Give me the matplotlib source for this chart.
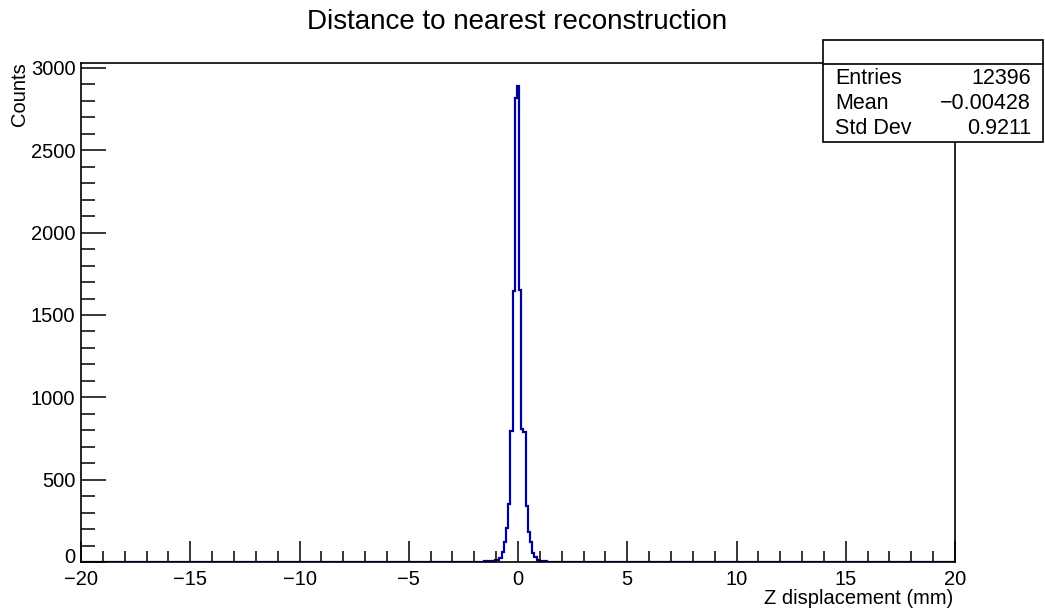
import numpy as np
import matplotlib
matplotlib.use("Agg")
import matplotlib.pyplot as plt
from matplotlib.ticker import MultipleLocator

plt.rcParams['font.family'] = ['Liberation Sans', 'DejaVu Sans']

# ---- data ----
title = "Distance to nearest reconstruction"
xlabel = "Z displacement (mm)"
ylabel = "Counts"
bin_width = 0.1
x_min, x_max = -20.0, 20.0

# non-empty bins: centre (mm) -> counts
bin_centres = [-14.1, -7.6, -7.1, -5.1, -4.7, -4.5, -4.4, -4.2, -3.7, -3.6, -2.8, -2.7,
               -2.1, -2.0, -1.8, -1.7, -1.5, -1.4, -1.3, -1.2, -1.1, -1.0,
               -0.9, -0.8, -0.7, -0.6, -0.5, -0.4, -0.3, -0.2, -0.1, 0.0,
               0.1, 0.2, 0.3, 0.4, 0.5, 0.6, 0.7, 0.8, 0.9, 1.0,
               1.1, 1.2, 1.3, 1.6, 1.7, 1.8, 1.9, 2.5, 2.6, 2.8, 4.5, 4.6,
               5.4, 5.9, 7.0, 7.1, 7.8, 9.8, 10.9]
bin_counts = [2, 3, 2, 2, 3, 3, 2, 2, 3, 3, 2, 3,
              2, 2, 3, 3, 4, 4, 5, 6, 8, 10,
              15, 25, 62, 120, 205, 355, 795, 1645, 2820, 2890,
              1650, 805, 790, 340, 185, 120, 55, 30, 15, 8,
              6, 4, 4, 3, 3, 2, 2, 3, 3, 2, 2, 2,
              2, 2, 3, 2, 2, 2, 2]

stats_entries = "12396"
stats_mean = "\u22120.00428"
stats_std = "0.9211"

# ---- build histogram ----
n_bins = int(round((x_max - x_min) / bin_width)) + 1
edges = x_min - bin_width / 2 + bin_width * np.arange(n_bins + 1)
counts = np.zeros(n_bins)
for c, v in zip(bin_centres, bin_counts):
    idx = int(round((c - x_min) / bin_width))
    counts[idx] = v

fig = plt.figure(figsize=(10.45, 6.11), dpi=100)
ax = fig.add_axes([81/1045, 1 - 562/611, (955-81)/1045, (562-63)/611])
ax.stairs(counts, edges, color='#00009a', linewidth=1.6)

ax.set_xlim(x_min, x_max)
ax.set_ylim(0, 3030)

ax.xaxis.set_major_locator(MultipleLocator(5))
ax.xaxis.set_minor_locator(MultipleLocator(1))
ax.yaxis.set_major_locator(MultipleLocator(500))
ax.yaxis.set_minor_locator(MultipleLocator(100))
ax.tick_params(axis='both', which='both', direction='in', top=False, right=False,
               labelsize=14.5, width=1.1, color='black')
ax.tick_params(axis='x', which='major', length=15, pad=6)
ax.tick_params(axis='x', which='minor', length=8)
ax.tick_params(axis='y', which='major', length=18, pad=4)
ax.tick_params(axis='y', which='minor', length=10)
for s in ax.spines.values():
    s.set_linewidth(1.2)

def fmt_x(v, pos):
    return f"{v:g}".replace('-', '\u2212')

def fmt_y(v, pos):
    # the zero label is drawn separately, a touch higher, to clear the x labels
    return "" if v == 0 else f"{v:g}"

ax.xaxis.set_major_formatter(plt.FuncFormatter(fmt_x))
ax.yaxis.set_major_formatter(plt.FuncFormatter(fmt_y))
ax.annotate("0", xy=(0, 0), xycoords='axes fraction', xytext=(-4, 3),
            textcoords='offset points', ha='right', va='center', fontsize=14.5)

fig.text(517/1045, 1 - 22/611, title, ha='center', va='center', fontsize=20)
fig.text(953/1045, 1 - 598/611, xlabel, ha='right', va='center', fontsize=14.5)
fig.text(19/1045, 1 - 62/611, ylabel, ha='center', va='top', rotation=90, fontsize=14.5)

# stats box
bx0, bx1 = 823/1045, 1043/1045
by_top, by_sep, by_bot = 1 - 40/611, 1 - 64/611, 1 - 142/611
rect = plt.Rectangle((bx0, by_bot), bx1 - bx0, by_top - by_bot, transform=fig.transFigure,
                     fill=True, facecolor='white', edgecolor='black', linewidth=1.2, zorder=5)
fig.add_artist(rect)
fig.add_artist(plt.Line2D([bx0, bx1], [by_sep, by_sep], transform=fig.transFigure,
                          color='black', linewidth=1.2, zorder=6))
rows = [("Entries", stats_entries), ("Mean", stats_mean), ("Std Dev", stats_std)]
for i, (k, v) in enumerate(rows):
    yy = 1 - (78 + 25.5 * i) / 611
    fig.text(835/1045, yy, k, ha='left', va='center', fontsize=15.5, zorder=7)
    fig.text(1031/1045, yy, v, ha='right', va='center', fontsize=15.5, zorder=7)

fig.savefig("out.png", dpi=100)
